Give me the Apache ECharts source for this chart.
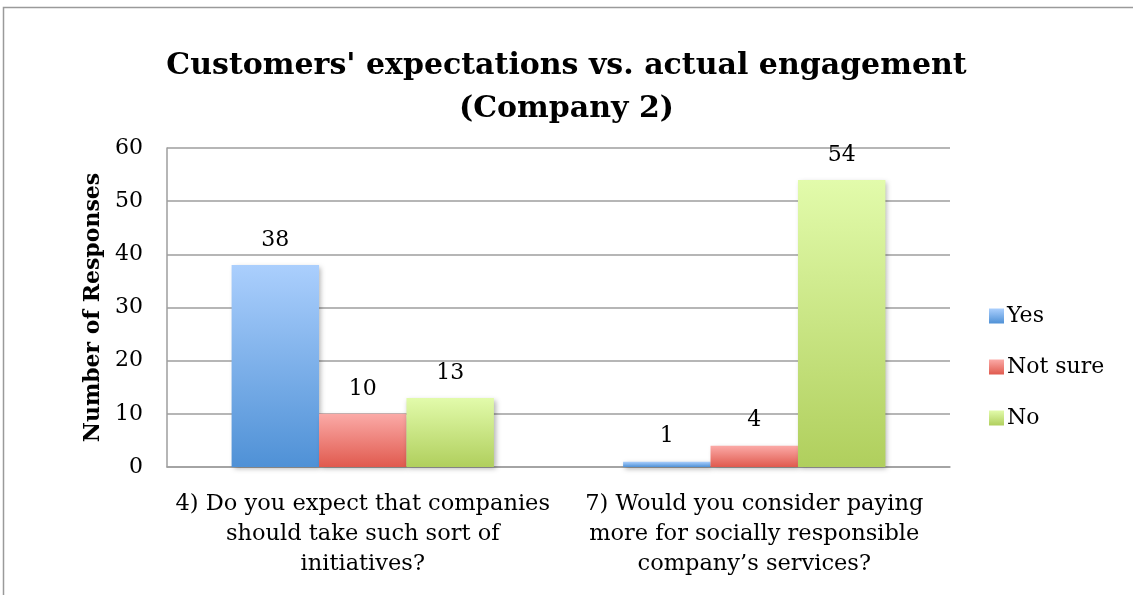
<!DOCTYPE html>
<html>
<head>
<meta charset="utf-8">
<script src="https://cdn.jsdelivr.net/npm/echarts@6/dist/echarts.min.js"></script>
<style>
html,body{margin:0;padding:0;background:#fff;}
#chart{width:1133px;height:595px;}
</style>
</head>
<body>
<div id="chart"></div>
<script>
const titleText = "Customers' expectations vs. actual engagement\n(Company 2)";
const categories = [
  "4) Do you expect that companies\nshould take such sort of\ninitiatives?",
  "7) Would you consider paying\nmore for socially responsible\ncompany’s services?"
];
const seriesNames = ["Yes", "Not sure", "No"];
const yesValues = [38, 1];
const notSureValues = [10, 4];
const noValues = [13, 54];
const yTicks = [0, 10, 20, 30, 40, 50, 60];

const serif = "'DejaVu Serif', 'Liberation Serif', serif";
function grad(top, bottom) {
  return new echarts.graphic.LinearGradient(0, 0, 0, 1, [
    {offset: 0, color: top}, {offset: 1, color: bottom}
  ]);
}
const colors = [
  grad('#abcffd', '#4f91d6'),
  grad('#fbaaa7', '#e05a4e'),
  grad('#e2fbab', '#b0cf5d')
];
const legendColors = [grad('#abcffd', '#4f91d6'), grad('#fbaaa7', '#e05a4e'), grad('#e2fbab', '#b0cf5d')];
const dataSets = [yesValues, notSureValues, noValues];

const chart = echarts.init(document.getElementById('chart'));
chart.setOption({
  animation: false,
  backgroundColor: '#fff',
  graphic: [{
    type: 'rect', shape: {x: 3.5, y: 7.5, width: 1140, height: 600},
    style: {fill: 'none', stroke: '#9a9a9a', lineWidth: 1.5}, silent: true
  }],
  title: {
    text: titleText,
    left: 'center', top: 40,
    textStyle: {fontFamily: serif, fontWeight: 'bold', fontSize: 30, lineHeight: 43, color: '#000'}
  },
  legend: {
    orient: 'vertical', left: 984, top: 300,
    itemWidth: 15, itemHeight: 15, itemGap: 29,
    icon: 'rect',
    textStyle: {fontFamily: serif, fontSize: 22, color: '#000', padding: [0, 0, 0, -2]},
    data: seriesNames.map((n, i) => ({name: n, itemStyle: {color: legendColors[i]}}))
  },
  grid: {left: 167, right: 183, top: 148, bottom: 128, containLabel: false},
  xAxis: {
    type: 'category', data: categories,
    axisLine: {lineStyle: {color: '#9e9e9e', width: 1.5}},
    axisTick: {show: false},
    axisLabel: {fontFamily: serif, fontSize: 22.5, lineHeight: 30, color: '#000', margin: 22, interval: 0}
  },
  yAxis: {
    type: 'value', min: 0, max: 60, interval: 10,
    name: 'Number of Responses', nameLocation: 'middle', nameGap: 60, nameRotate: 90,
    nameTextStyle: {fontFamily: serif, fontWeight: 'bold', fontSize: 22, color: '#000'},
    axisLine: {show: true, lineStyle: {color: '#9e9e9e', width: 1.5}},
    axisTick: {show: false},
    axisLabel: {fontFamily: serif, fontSize: 22, color: '#000', margin: 24,
      formatter: v => yTicks.includes(v) ? String(v) : ''},
    splitLine: {lineStyle: {color: '#9e9e9e', width: 1.5}}
  },
  series: seriesNames.map((n, i) => ({
    name: n, type: 'bar', data: dataSets[i],
    barGap: '0%', barCategoryGap: '33%',
    itemStyle: {color: colors[i], shadowBlur: 5, shadowColor: 'rgba(0,0,0,0.3)', shadowOffsetX: 2, shadowOffsetY: 2},
    label: {show: true, position: 'top', distance: 14, fontFamily: serif, fontSize: 22, color: '#000'}
  }))
});
</script>
</body>
</html>
